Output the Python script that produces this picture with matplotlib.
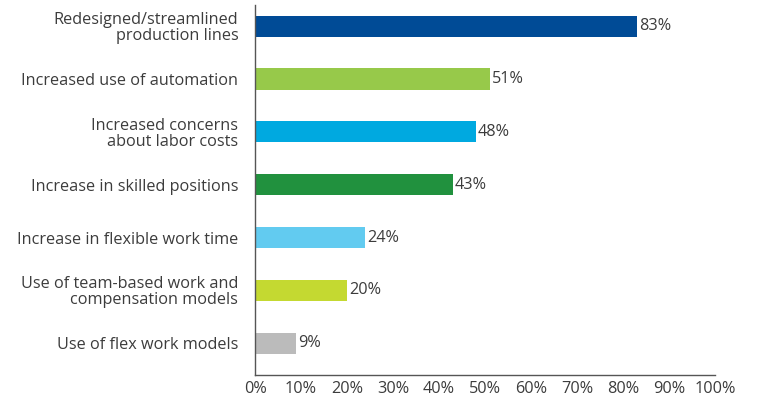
import numpy as np
import matplotlib.pyplot as plt

plt.rcParams['font.family'] = ['Open Sans', 'DejaVu Sans']

categories = ["Redesigned/streamlined\nproduction lines",
              "Increased use of automation",
              "Increased concerns\nabout labor costs",
              "Increase in skilled positions",
              "Increase in flexible work time",
              "Use of team-based work and\ncompensation models",
              "Use of flex work models"]
values = [83, 51, 48, 43, 24, 20, 9]
colors = ["#004B96", "#97C94A", "#00A9E0", "#21913E", "#62CBF0", "#C4D931", "#BBBBBB"]
ticks = list(range(0, 101, 10))

txt = dict(fontsize=11.7, color='#3c3c3c')

fig = plt.figure(figsize=(7.59, 4.0), dpi=100)
ax = fig.add_axes([0.336, 0.0625, 0.606, 0.925])
y = np.arange(len(categories))
ax.barh(y, values, height=0.4, color=colors)
for yi, v in zip(y, values):
    ax.text(v + 0.4, yi, f"{v}%", va='center', ha='left', **txt)

ax.set_ylim(len(categories) - 0.4, -0.4)
ax.set_xlim(0, 100)
ax.set_yticks(y)
ax.set_yticklabels(categories, linespacing=1.0, **txt)
ax.set_xticks(ticks)
ax.set_xticklabels([f"{t}%" for t in ticks], **txt)
ax.tick_params(length=0)
ax.tick_params(axis='x', pad=4)
ax.tick_params(axis='y', pad=12)
for s in ['top', 'right']:
    ax.spines[s].set_visible(False)
for s in ['left', 'bottom']:
    ax.spines[s].set_color('#555555')
    ax.spines[s].set_linewidth(1.0)

fig.savefig("out.png", dpi=100)
